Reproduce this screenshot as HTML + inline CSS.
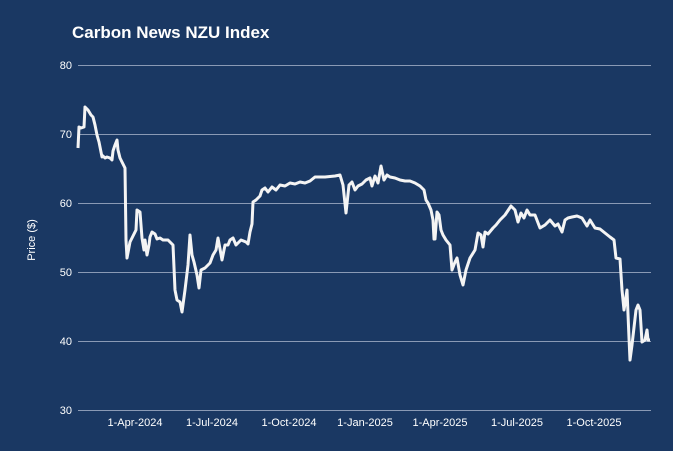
<!DOCTYPE html>
<html><head><meta charset="utf-8"><style>
html,body{margin:0;padding:0;background:#1a3863;}
svg{display:block;font-family:"Liberation Sans",sans-serif;}
</style></head><body>
<svg width="673" height="451" viewBox="0 0 673 451">
<rect width="673" height="451" fill="#1a3863"/>
<text x="72" y="38" fill="#fff" font-size="17" font-weight="bold">Carbon News NZU Index</text>
<g stroke="#8a9ab5" stroke-width="1">
<line x1="78" y1="65.5" x2="651" y2="65.5"/>
<line x1="78" y1="134.5" x2="651" y2="134.5"/>
<line x1="78" y1="203.5" x2="651" y2="203.5"/>
<line x1="78" y1="272.5" x2="651" y2="272.5"/>
<line x1="78" y1="341.5" x2="651" y2="341.5"/>
<line x1="78" y1="410.5" x2="651" y2="410.5"/>
</g>
<g fill="#fff" font-size="11" text-anchor="end">
<text x="72" y="69">80</text><text x="72" y="138">70</text><text x="72" y="207">60</text>
<text x="72" y="276">50</text><text x="72" y="345">40</text><text x="72" y="414">30</text>
</g>
<text transform="translate(35,240) rotate(-90)" fill="#fff" font-size="11" text-anchor="middle">Price ($)</text>
<g fill="#fff" font-size="11" text-anchor="middle">
<text x="135" y="426">1-Apr-2024</text><text x="212" y="426">1-Jul-2024</text>
<text x="289" y="426">1-Oct-2024</text><text x="365" y="426">1-Jan-2025</text>
<text x="440" y="426">1-Apr-2025</text><text x="517" y="426">1-Jul-2025</text>
<text x="594" y="426">1-Oct-2025</text>
</g>
<polyline fill="none" stroke="#f4f4f4" stroke-width="3" stroke-linejoin="round" points="78,148 79,127 81,128 84,127 85,107 88,110 91,115 93,117 95,125 97,135 99,142 100,147 102,157 103,156 105,158 107,157 110,158 112,160 113,151 115,145 117,140 118,150 120,158 122,162 125,168 126,240 127,258 130,242 133,236 136,230 137,210 140,212 142,238 144,250 145,240 147,255 149,245 150,237 152,232 155,234 157,239 160,238 163,240 165,240 168,240 173,245 175,290 177,300 180,302 182,312 185,290 188,265 190,235 192,255 194,262 197,275 199,288 201,270 205,268 210,263 213,255 216,250 218,238 222,260 225,245 228,245 230,240 233,238 236,245 239,242 241,240 246,242 248,244 250,232 252,224 253,202 256,200 260,196 262,190 265,188 268,192 272,187 276,190 280,185 285,186 290,183 295,184 300,182 305,183 310,181 315,177 325,177 335,176 340,175 343,185 346,213 349,185 352,182 355,190 358,186 362,184 366,180 370,178 372,186 375,176 378,183 381,166 384,180 387,175 390,177 395,178 400,180 405,181 410,181 415,183 420,186 424,190 426,200 428,203 431,210 433,220 434,239 435,239 437,212 439,215 441,230 443,235 446,240 450,245 452,270 455,262 457,258 460,275 463,285 466,270 470,258 475,250 478,233 481,235 483,247 485,232 488,234 493,228 496,225 500,220 505,215 511,206 515,210 518,222 521,213 524,218 527,210 530,215 535,215 540,228 545,225 550,220 555,226 558,224 562,232 565,220 568,218 572,217 577,216 582,218 587,226 590,220 595,228 600,229 605,233 610,237 614,240 616,258 620,259 622,290 624,310 627,290 629,338 630,360 632,345 636,310 638,305 640,310 642,342 645,340 647,330 648,340 650,340"/>
</svg>
</body></html>
